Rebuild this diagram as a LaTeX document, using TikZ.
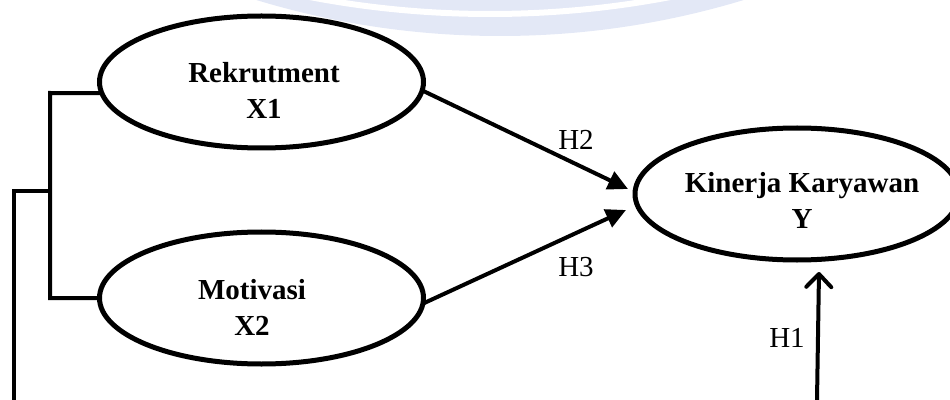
\documentclass[tikz,border=0pt]{standalone}
\usepackage{fontspec}
\setmainfont{Liberation Serif}
\usetikzlibrary{shapes.geometric,positioning,arrows.meta}
\definecolor{wmark}{HTML}{E3E8F6}
\tikzset{>={Triangle[length=0.4cm,width=0.38cm]}}
\tikzset{
  construct/.style={ellipse, draw, line width=0.1cm, minimum width=6.48cm,
    minimum height=2.64cm, inner sep=0pt, outer sep=0pt},
  cname/.style={font=\fontsize{16.5}{20.5}\selectfont\bfseries, align=center, inner sep=0pt},
  hyp/.style={font=\fontsize{16.5}{20.5}\selectfont, inner sep=0pt},
  link/.style={line width=0.08cm},
}

\begin{document}
\begin{tikzpicture}
  \useasboundingbox (0,0) rectangle (19,-8);

  % Watermark
  \begin{scope}
    \clip (0,0) rectangle (19,-8);
    \fill[wmark] (10.0,16.04) circle (16.76);
    \draw[white, line width=0.12cm] (9.8,18.84) circle (19.12);
  \end{scope}

  % Nodes
  \node[construct, label={[cname, shift={(0.05,-0.16)}]center:Rekrutment\\X1}]
    (rekrut) at (5.23,-1.64) {};
  \node[construct, below=1.68cm of rekrut,
    label={[cname, shift={(-0.19,-0.18)}]center:Motivasi\\X2}] (motiv) {};
  \node[construct, label={[cname, shift={(0.1,-0.12)}]center:Kinerja Karyawan\\Y}]
    (kinerja) at (15.94,-3.88) {};

  \node[hyp] (h2) at (11.52,-2.8) {H2};
  \node[hyp] (h3) at (11.52,-5.34) {H3};
  \node[hyp] (h1) at (15.74,-6.76) {H1};

  % Bracket points
  \coordinate (brtop) at (1.0,-1.86);
  \coordinate (brmid) at (1.0,-3.82);
  \coordinate (brout) at (0.27,-3.82);
  \coordinate (broutfoot) at (0.27,-8);
  \coordinate (h1foot) at (16.34,-8);

  % Edges
  \draw[link, ->] (rekrut.-3) -- ([shift={(-0.14,0.1)}]kinerja.west);
  \draw[link, ->] (motiv.-2) -- ([shift={(-0.18,-0.32)}]kinerja.west);
  \draw[link, -{Straight Barb[length=0.26cm,width=0.5cm,round]}]
    (h1foot) -- ([shift={(0.44,-0.24)}]kinerja.south);
  \draw[link] (rekrut.184) -- (brtop) |- (motiv.west);
  \draw[link] (brmid) -- (brout) -- (broutfoot);

\end{tikzpicture}
\end{document}
